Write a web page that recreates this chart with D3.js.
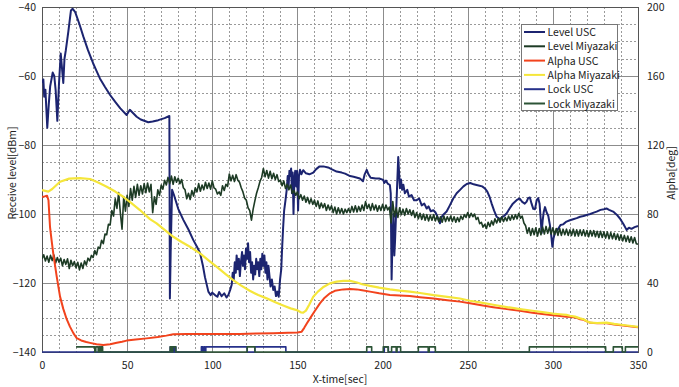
<!DOCTYPE html>
<html><head><meta charset="utf-8">
<script src="https://cdn.jsdelivr.net/npm/d3@7"></script>
<style>
html,body{margin:0;padding:0;background:#fff;}
svg text{font-family:"Noto Sans CJK JP","Liberation Sans",Arial,sans-serif;font-size:10.5px;fill:#222;}
</style></head><body>
<svg id="c" width="679" height="387"></svg>
<script>
// ---------------- data ----------------
const xTicks = [0,50,100,150,200,250,300,350];
const yLeftTicks = [-140,-120,-100,-80,-60,-40];
const yRightTicks = [0,40,80,120,160,200];
const seriesNames = ["Level USC","Level Miyazaki","Alpha USC","Alpha Miyazaki","Lock USC","Lock Miyazaki"];

const levelUSC = [[0,-62],[0.8,-61],[1.3,-66],[2,-64],[3.1,-75],[4,-68],[4.8,-63],[6.3,-59],[7.2,-60],[8,-64],[9,-73],[10,-62],[11,-53.5],[12.5,-62],[13.2,-55],[14,-52.5],[15.5,-47],[17,-41],[18,-40.5],[19.5,-41.5],[22,-45],[24.3,-48.6],[27,-52.5],[30,-56.3],[32,-58.5],[34,-60.7],[37,-63.2],[40,-65.5],[43,-67.5],[46,-69.4],[49.7,-71.3],[51.6,-69.8],[53,-70.5],[55.6,-71.8],[58,-72.6],[62.4,-73.4],[65,-73.2],[68.3,-72.8],[72,-72.2],[74.8,-71.6],[75.1,-124.5],[75.6,-110],[76.4,-93],[77.5,-94.5],[80,-98.5],[83,-101.7],[86,-104.5],[88.8,-107.5],[91,-109.5],[92.8,-111.3],[94.5,-115],[95.7,-118.3],[97.7,-122.5],[99,-123.5],[100,-122.8],[101.6,-123.5],[103,-124],[104,-122.6],[105.5,-123.8],[107,-123],[108.4,-124.2],[109.5,-123.4],[110.5,-122],[111.4,-120.5],[112,-117],[112.6,-119],[113.2,-114],[113.8,-117],[114.3,-112],[115,-116],[115.6,-113],[116.2,-118],[116.8,-114],[117.5,-111],[118,-115],[118.6,-112],[119.2,-116],[119.8,-110],[120.4,-113],[121,-108.5],[121.6,-114],[122.2,-111],[122.8,-117],[123.4,-114],[124,-119],[124.6,-115],[125.2,-117.5],[125.8,-113],[126.4,-116],[127,-114],[127.6,-118],[128.2,-113],[128.8,-116],[129.4,-111.5],[130,-115],[130.6,-112],[131.2,-117],[131.8,-114],[132.4,-119],[133,-115],[133.6,-118],[134.2,-121],[135,-119],[135.8,-122],[136.6,-121],[137.4,-123.8],[138.2,-122.5],[139,-124],[139.8,-119],[140.5,-116],[141,-110],[141.6,-104],[142.2,-99],[143,-96],[143.7,-93],[144.3,-89],[144.8,-92],[145.3,-87.5],[145.8,-89],[146.3,-86.8],[146.8,-94],[147.2,-88],[147.7,-100],[148.2,-90],[148.7,-87.5],[149.3,-92],[149.8,-87.5],[150.4,-99],[150.9,-89],[151.5,-87.2],[152.3,-88.5],[153.4,-87.3],[155,-88.2],[157,-88.5],[159.3,-88],[161,-87],[163,-86.2],[165.2,-86.2],[168,-86.5],[170,-87],[173,-87.7],[176,-88],[178,-88.3],[180.9,-89],[183,-89.2],[186.7,-89.7],[188.5,-90.5],[189.5,-88.5],[190.7,-87.2],[191.7,-88.5],[193,-89.5],[196,-89.7],[198,-89.7],[200.4,-90.1],[201,-91],[202,-90.3],[203,-91.2],[204.3,-91.6],[204.8,-94],[205.3,-119],[205.8,-108],[206.4,-100],[206.9,-112],[207.3,-108],[208.3,-95],[209.2,-83.5],[209.7,-88],[210.2,-92.5],[210.8,-90],[211.5,-93],[212.2,-91.5],[213.1,-94],[214.5,-93],[215.5,-95],[217,-94.5],[218.5,-96],[220,-96],[221.5,-95.5],[223,-97.5],[224.5,-97],[225.9,-98.4],[227,-97.8],[228.3,-99.2],[229.8,-98.9],[231,-99.5],[232,-100.5],[233.7,-102.7],[234.5,-101],[235.5,-100.3],[237.6,-99.3],[239.5,-97.5],[241.5,-95.5],[243.5,-94],[245.5,-93],[247.5,-92],[249.4,-91.3],[251.5,-91],[253.5,-91.4],[255.2,-91.6],[257,-91.8],[258.5,-92],[260.1,-92.6],[261.5,-93.5],[262.8,-95],[264,-96.9],[265.5,-99],[267,-100.8],[268.9,-101.5],[270,-101],[271.5,-100.5],[272.9,-99.8],[274.5,-98.5],[276.5,-97],[278.7,-96],[280.5,-95.5],[282,-96.5],[283.5,-97],[284.6,-96.4],[285.5,-95.4],[286.5,-95.2],[287.5,-97],[288.5,-98.5],[289.5,-98.6],[290.5,-96],[291.4,-95.4],[292.2,-97],[292.8,-101],[293.4,-105.5],[294,-102],[294.6,-99.5],[295.4,-98],[296.3,-99.5],[297.3,-100.5],[298.2,-103],[299,-106],[299.7,-109.5],[300.4,-107],[301.2,-105.5],[302.2,-104.9],[303.5,-104],[304.5,-103.2],[306,-103],[308,-102.2],[310,-101.8],[311.9,-101.5],[314,-101.2],[316,-100.8],[318,-100.6],[319.8,-100.3],[322,-100],[324,-99.6],[325.7,-99.3],[328,-98.8],[330,-98.6],[331.5,-98.4],[333,-98.8],[335.4,-99.3],[337.5,-100.2],[339.4,-101.3],[341.5,-103],[343.3,-104.6],[344.7,-104],[346.2,-104.3],[348,-103.8],[350,-103.5]];

// Level Miyazaki sampled once per second, t = 0..350
const levelMiyazakiValues = [
-113,-111.8,-113.6,-112.2,-114,-112,-113.5,-111.9,-114.2,-112.6,
-114,-112.8,-115,-113.2,-114.6,-113,-115.8,-113.4,-115,-113.8,
-115.6,-114,-116.2,-114.2,-115.8,-113.6,-114.8,-112.8,-113.6,-112,
-112.6,-110.6,-111.8,-109.6,-110,-107.6,-108.6,-105.8,-106,-103,
-103.2,-99,-100.6,-95.6,-98.4,-93.8,-99.6,-104.4,-95,-99.2,
-94.6,-97.8,-92.6,-96,-92,-95.2,-91.4,-94.6,-91.8,-94.2,
-91.2,-93.8,-91,-93.6,-91.4,-99.6,-95,-97.2,-93,-94.6,
-91.6,-92.8,-90.2,-91.6,-89.4,-91.2,-89,-91.4,-89.2,-90.8,
-89.6,-91.2,-90,-92.4,-93,-95.6,-94,-95.8,-93.2,-94.8,
-92.4,-93.6,-91.2,-93.4,-91.6,-93,-90.8,-92.6,-91,-92.8,
-90.4,-92.4,-92.8,-94.2,-93.6,-94.6,-91.8,-93.2,-91.4,-92,
-88.4,-90.4,-88.8,-90.6,-88.6,-90.2,-90.8,-92.4,-93.6,-95.4,
-96,-98.2,-99,-101.8,-98.6,-96.2,-94,-92.4,-90.6,-89.4,
-86.8,-89.2,-87.4,-89.6,-87.6,-89.8,-88.2,-90,-88.6,-90.6,
-90.2,-91.8,-90.4,-92.6,-91.4,-93,-91.6,-94,-93.2,-94.6,
-93.6,-95.6,-94.4,-96,-94.8,-96.6,-95.2,-97,-95.6,-97.2,
-96,-97.8,-96.2,-98.4,-96.8,-98.2,-97,-99,-97.4,-98.8,
-97.6,-99.6,-98,-100,-98.2,-99.8,-98.4,-100,-98.6,-99.6,
-98.4,-99.6,-97.8,-99.4,-97.6,-99.4,-97.8,-99.2,-97.4,-99,
-96.4,-98.4,-97.2,-99,-97,-98.8,-97.4,-99.2,-97.6,-99,
-97.2,-99,-97.4,-98.8,-98,-102.6,-96.4,-100.8,-98.2,-101,
-98.2,-100.2,-98.6,-100.4,-98.4,-100,-98.8,-100.4,-99,-101,
-99.6,-101.4,-99.8,-101.6,-100,-101.8,-100.2,-102,-100.4,-101.8,
-100.2,-102,-100.6,-102.2,-100.8,-102.4,-100.6,-102.2,-100.8,-102,
-100.6,-102.2,-100.8,-102.4,-101,-102.2,-100.6,-101.6,-100.2,-101,
-99.6,-101,-99.8,-100.8,-100,-101.6,-101,-102.8,-102.4,-103.8,
-103,-104.2,-102.4,-103.6,-102,-103.2,-101.4,-102.6,-101.2,-102.4,
-100.8,-102.2,-101,-102,-100.6,-101.8,-100.4,-101.6,-100.2,-101.4,
-99.8,-101.2,-100.6,-102.6,-103.4,-105.6,-104,-106.2,-104.2,-106,
-104,-106.4,-104.2,-106,-103.8,-105.8,-103.6,-105.6,-103.8,-105.8,
-104,-106,-104.2,-106.2,-104.2,-106.2,-104.4,-106,-104.4,-106.2,
-104.6,-106.2,-104.4,-106.4,-104.6,-106.4,-104.6,-106.2,-104.6,-106.4,
-104.8,-106.6,-104.8,-106.4,-104.8,-106.6,-105,-106.8,-105,-106.8,
-105.2,-107,-105.2,-107.2,-105.4,-107.2,-105.6,-107.4,-105.8,-107.6,
-106,-107.8,-106.2,-108,-106.4,-108.2,-106.6,-108.4,-106.8,-108.6,
-108.8];
const levelMiyazaki = levelMiyazakiValues.map((v,i)=>[i,v]);

const alphaUSC = [[0,90],[1.5,90.2],[3,90.6],[3.8,88],[4.7,72.6],[5.6,65],[6.6,57.2],[8.6,44],[10.6,32.1],[12.5,25],[14.5,19],[16.4,14.7],[18.5,10.8],[20.4,8],[23,6.7],[26,5.8],[28.2,5.3],[32,4.5],[36,4.1],[40,4.5],[43.9,5.4],[47,6],[49.7,6.6],[55,7.2],[61.5,7.9],[68,8.7],[73,9.5],[77.1,10.3],[85,10.4],[96.7,10.4],[106,10.4],[116.3,10.5],[126,10.7],[135.8,10.9],[144.6,11.1],[150,11.3],[152.5,11.8],[154,14],[155.5,16.5],[157.4,19.5],[160,23.5],[163.2,28.2],[166,31.5],[169.1,34],[172,35.5],[176.9,36.3],[181,36.5],[184.8,36.3],[188,35.8],[192.6,35],[198,34],[204.3,33],[210,32.8],[216,32.4],[222,31.8],[230,31],[238,30],[245.4,29.2],[251.3,28.2],[258,27.1],[265,26],[272,25],[280.7,23.9],[288,22.8],[295,21.9],[300,21.3],[304.2,20.9],[308,20.5],[311,20.3],[314,19.8],[316,19],[318,18.7],[320,17.8],[322,16.9],[326,16.6],[331.6,16.6],[336,16],[340,15.5],[345,14.9],[350,14.3]];

const alphaMiyazaki = [[0,93.9],[3.7,93],[6,94.5],[10.6,98.7],[16,100.5],[22.3,100.8],[28.2,100.3],[33,98.3],[38,95.8],[43,93],[47.7,90],[52.5,86.3],[57.5,82.3],[63.4,77],[67.3,74.6],[72,70.8],[77.1,66.8],[82,63.8],[86.9,61],[92.8,57.2],[98,53],[103,49],[108,45],[112.3,41.7],[117,38.5],[122,35.5],[127,33],[131.9,31.1],[137,28.8],[142,26.8],[146,25.3],[149.6,24.3],[152,23],[153.4,22.8],[155,24],[157,27.5],[159.3,32],[162,35],[165,37.5],[169.1,39.8],[173,40.8],[177,41.2],[181,41.2],[185,40.3],[188,39.3],[192.6,38.3],[198,37.3],[204.3,36.3],[210,35.6],[216,35],[222,34.2],[230,33],[238,32],[245.4,31],[251.3,29.7],[258,28.6],[265,27.4],[272,26.2],[280.7,24.9],[288,23.9],[295,23],[300,22.3],[304.2,21.9],[308,21.5],[310,21],[313,20.5],[316,19.5],[318,19],[320,17.8],[322,17],[326,16.8],[331.6,17],[336,16.3],[340,15.8],[345,15.2],[350,14.6]];

const lockUSC = [[0,0],[75.3,3],[76,0],[76.6,3],[77.3,0],[77.9,3],[78.6,0],[93.6,3],[94.3,0],[95,3],[95.7,0],[96.2,3],[120.5,0],[125,3],[143.2,0],[201,3],[203.4,0],[350,0]];

const lockMiyazaki = [[20,3],[31,0],[31.6,3],[33,0],[33.5,3],[34.3,0],[34.8,3],[35.6,0],[75.3,3],[76.2,0],[76.8,3],[78.5,0],[120.5,3],[125,0],[190.7,3],[193.6,0],[200.4,3],[203.3,0],[205.3,3],[208,0],[208.5,3],[210.6,0],[221,3],[226.8,0],[227.4,3],[231,0],[286.2,3],[331,0],[335.5,3],[340.8,0],[342.6,3],[350,3]];

// ---------------- chart ----------------
const L = 42, R = 638, T = 7, B = 352;
const svg = d3.select("#c");
const x = d3.scaleLinear().domain([0,350]).range([L,R]);
const yL = d3.scaleLinear().domain([-140,-40]).range([B,T]);
const yR = d3.scaleLinear().domain([0,200]).range([B,T]);

const g = svg.append("g");
g.selectAll("line.vx").data(d3.range(10,350,10).filter(v=>v%50!==0)).join("line")
  .attr("x1",d=>Math.round(x(d))+0.5).attr("x2",d=>Math.round(x(d))+0.5).attr("y1",T).attr("y2",B)
  .attr("stroke","#9a9a9a").attr("stroke-width",1).attr("stroke-dasharray","2,2");
g.selectAll("line.hy").data(d3.range(-135,-40,5).filter(v=>v%20!==0)).join("line")
  .attr("y1",d=>Math.round(yL(d))+0.5).attr("y2",d=>Math.round(yL(d))+0.5).attr("x1",L).attr("x2",R)
  .attr("stroke","#9a9a9a").attr("stroke-width",1).attr("stroke-dasharray","2,2");
g.selectAll("line.mx").data([50,100,150,200,250,300]).join("line")
  .attr("x1",d=>Math.round(x(d))+0.5).attr("x2",d=>Math.round(x(d))+0.5).attr("y1",T).attr("y2",B)
  .attr("stroke","#8c8c8c").attr("stroke-width",1);
g.selectAll("line.my").data([-120,-100,-80,-60]).join("line")
  .attr("y1",d=>Math.round(yL(d))+0.5).attr("y2",d=>Math.round(yL(d))+0.5).attr("x1",L).attr("x2",R)
  .attr("stroke","#8c8c8c").attr("stroke-width",1);
svg.append("rect").attr("x",L+0.5).attr("y",T+0.5).attr("width",R-L).attr("height",B-T)
  .attr("fill","none").attr("stroke","#555").attr("stroke-width",1);

const axL = svg.append("g").attr("transform",`translate(${L},0)`)
  .call(d3.axisLeft(yL).tickValues(yLeftTicks).tickSize(0).tickPadding(6).tickFormat(d=>String(d).replace("-","\u2212")));
const axR = svg.append("g").attr("transform",`translate(${R},0)`)
  .call(d3.axisRight(yR).tickValues(yRightTicks).tickSize(0).tickPadding(9));
const axB = svg.append("g").attr("transform",`translate(0,${B})`)
  .call(d3.axisBottom(x).tickValues(xTicks).tickSize(0).tickPadding(10));
[axL,axR,axB].forEach(a=>{a.select(".domain").remove(); a.selectAll("text").attr("font-size",null).attr("font-family",null);});

svg.append("text").attr("transform",`translate(16,173) rotate(-90)`).attr("text-anchor","middle").text("Receive level[dBm]");
svg.append("text").attr("transform",`translate(675,173) rotate(-90)`).attr("text-anchor","middle").text("Alpha[deg]");
svg.append("text").attr("x",(L+R)/2).attr("y",383).attr("text-anchor","middle").text("X-time[sec]");

const colors = ["#1c2470","#1d3b25","#f2431d","#f5e63a","#26318a","#2c5436"];
const widths = [2,1.6,2,2.2,1.6,1.6];
const lineL = d3.line().x(d=>x(d[0])).y(d=>yL(d[1]));
const lineR = d3.line().x(d=>x(d[0])).y(d=>yR(d[1]));
const stepR = d3.line().x(d=>x(d[0])).y(d=>yR(d[1])).curve(d3.curveStepAfter);
const defs = [[levelUSC,lineL],[levelMiyazaki,lineL],[alphaUSC,lineR],[alphaMiyazaki,lineR],[lockUSC,stepR],[lockMiyazaki,stepR]];
svg.append("clipPath").attr("id","clip").append("rect").attr("x",L).attr("y",T-3).attr("width",R-L+1).attr("height",B-T+5);
const sg = svg.append("g").attr("clip-path","url(#clip)");
defs.forEach(([data,gen],i)=>{
  sg.append("path").attr("d",gen(data)).attr("fill","none").attr("stroke",colors[i])
    .attr("stroke-width",widths[i]).attr("stroke-linejoin","round");
});

const lg = svg.append("g");
lg.append("rect").attr("x",521.5).attr("y",24.5).attr("width",96).attr("height",86)
  .attr("fill","#fff").attr("stroke","#777").attr("stroke-width",1);
seriesNames.forEach((n,i)=>{
  const yy = 32 + i*14.3;
  lg.append("line").attr("x1",524).attr("x2",545).attr("y1",yy).attr("y2",yy)
    .attr("stroke",colors[i]).attr("stroke-width",2);
  lg.append("text").attr("x",547.5).attr("y",yy+4).text(n);
});
</script></body></html>
